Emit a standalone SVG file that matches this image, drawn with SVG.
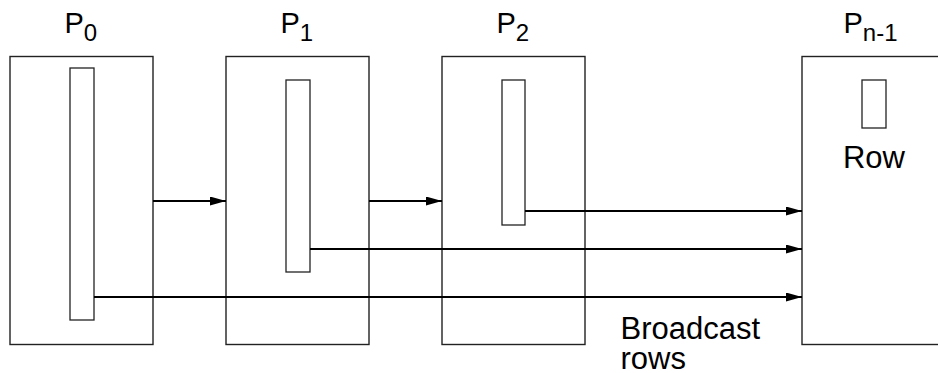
<svg xmlns="http://www.w3.org/2000/svg" width="938" height="373" viewBox="0 0 938 373">
<defs>
<style>
.box{fill:#fff;stroke:#222;stroke-width:1.4}
.row{fill:#fff;stroke:#222;stroke-width:1.3}
.lbl{font-family:"Liberation Sans",Arial,sans-serif;font-size:31px;fill:#000}
.plbl{font-family:"Liberation Sans",Arial,sans-serif;font-size:29px;fill:#000}
.sub{font-size:24px}
.conn{stroke:#000;stroke-width:2;fill:none;marker-end:url(#ah)}
</style>
<marker id="ah" markerUnits="userSpaceOnUse" markerWidth="17" markerHeight="10" refX="16" refY="4.5" orient="auto">
<path d="M0,0 L16,4.5 L0,9 z" fill="#000"/>
</marker>
</defs>
<rect width="938" height="373" fill="#fff"/>
<g id="P0">
<rect class="box" x="10" y="56.5" width="143" height="288"/>
<rect class="row" x="70" y="68" width="24" height="252"/>
<text class="plbl" x="64.5" y="33">P<tspan class="sub" dy="8">0</tspan></text>
</g>
<g id="P1">
<rect class="box" x="226" y="56.5" width="143" height="288"/>
<rect class="row" x="286" y="80" width="24" height="192"/>
<text class="plbl" x="280.5" y="33">P<tspan class="sub" dy="8">1</tspan></text>
</g>
<g id="P2">
<rect class="box" x="442" y="56.5" width="143" height="288"/>
<rect class="row" x="502" y="80" width="23" height="145"/>
<text class="plbl" x="496.5" y="33">P<tspan class="sub" dy="8">2</tspan></text>
</g>
<g id="Pn-1">
<rect class="box" x="802" y="56.5" width="143" height="288"/>
<rect class="row" x="862" y="80" width="24" height="48"/>
<text class="plbl" x="843.5" y="33">P<tspan class="sub" dy="8">n-1</tspan></text>
<text class="lbl" x="874" y="167.5" text-anchor="middle">Row</text>
</g>
<g id="connectors">
<line class="conn" x1="153" y1="201" x2="226" y2="201"/>
<line class="conn" x1="369" y1="201" x2="442" y2="201"/>
<line class="conn" x1="525" y1="211" x2="802" y2="211"/>
<line class="conn" x1="310" y1="249" x2="802" y2="249"/>
<line class="conn" x1="94" y1="297" x2="802" y2="297"/>
</g>
<g id="label-broadcast">
<text class="lbl"><tspan x="620.5" y="339">Broadcast</tspan><tspan x="620.5" y="369">rows</tspan></text>
</g>
</svg>
